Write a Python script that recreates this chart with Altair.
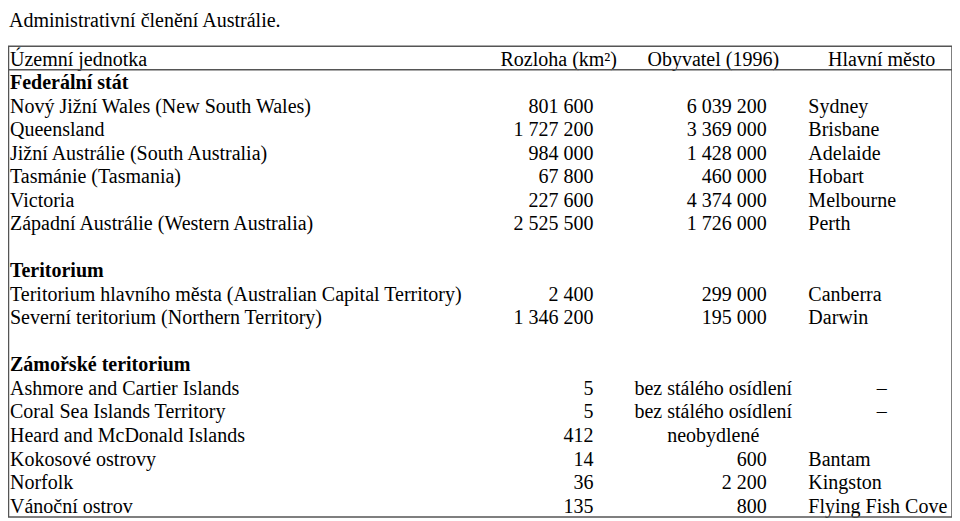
import altair as alt
import pandas as pd

title = "Administrativní členění Austrálie."
headers = ["Územní jednotka", "Rozloha (km²)", "Obyvatel (1996)", "Hlavní město"]
group_titles = ["Federální stát", "Teritorium", "Zámořské teritorium"]

state_names = [
    "Nový Jižní Wales (New South Wales)",
    "Queensland",
    "Jižní Austrálie (South Australia)",
    "Tasmánie (Tasmania)",
    "Victoria",
    "Západní Austrálie (Western Australia)",
]
state_area = [801600, 1727200, 984000, 67800, 227600, 2525500]
state_pop = [6039200, 3369000, 1428000, 460000, 4374000, 1726000]
state_cap = ["Sydney", "Brisbane", "Adelaide", "Hobart", "Melbourne", "Perth"]

terr_names = [
    "Teritorium hlavního města (Australian Capital Territory)",
    "Severní teritorium (Northern Territory)",
]
terr_area = [2400, 1346200]
terr_pop = [299000, 195000]
terr_cap = ["Canberra", "Darwin"]

ext_names = [
    "Ashmore and Cartier Islands",
    "Coral Sea Islands Territory",
    "Heard and McDonald Islands",
    "Kokosové ostrovy",
    "Norfolk",
    "Vánoční ostrov",
]
ext_area = [5, 5, 412, 14, 36, 135]
ext_pop = [None, None, None, 600, 2200, 800]
ext_pop_note = ["bez stálého osídlení", "bez stálého osídlení", "neobydlené", "", "", ""]
ext_cap = ["", "", "", "Bantam", "Kingston", "Flying Fish Cove"]
ext_cap_note = ["–", "–", "", "", "", ""]


def fmt(v):
    return "" if v is None else f"{v:,}".replace(",", " ")


records = []
row = 1
groups = [
    (group_titles[0], state_names, state_area, state_pop, [""] * 6, state_cap, [""] * 6),
    (group_titles[1], terr_names, terr_area, terr_pop, [""] * 2, terr_cap, [""] * 2),
    (group_titles[2], ext_names, ext_area, ext_pop, ext_pop_note, ext_cap, ext_cap_note),
]
group_rows = []
for gi, (gt, names, areas, pops, notes, caps, capnotes) in enumerate(groups):
    group_rows.append({"row": row, "label": gt})
    row += 1
    for n, a, p, nt, c, cn in zip(names, areas, pops, notes, caps, capnotes):
        records.append({"row": row, "name": n, "area": fmt(a), "pop": fmt(p),
                        "note": nt, "cap": c, "capnote": cn})
        row += 1
    if gi < len(groups) - 1:
        row += 1  # blank spacer row
last_row = row - 1

df = pd.DataFrame(records)
gdf = pd.DataFrame(group_rows)
hdf = pd.DataFrame({"row": [0]})
tdf = pd.DataFrame({"row": [-1.62], "label": [title]})
hlines = pd.DataFrame({"row": [-0.5, 0.5, last_row + 0.5]})
vlines = pd.DataFrame({"row": [-0.5], "row2": [last_row + 0.5]})

W, H = 944, 511
S = W / 953.0


def px(ref_x):
    return (ref_x - 2) * S


FONT = "Liberation Serif"
FS = 20
DY = 1.5
BORDER = "#555555"

yscale = alt.Scale(domain=[-2.125, 19.59], reverse=True, nice=False, zero=False)
Y = alt.Y("row:Q", scale=yscale, axis=None)


def txt(data, field, x, align="left", weight="normal"):
    return alt.Chart(data).mark_text(
        align=align, baseline="middle", font=FONT, fontSize=FS, fontWeight=weight,
        color="black", dy=DY
    ).encode(y=Y, x=alt.value(x), text=f"{field}:N")


def htxt(label, x, align):
    return alt.Chart(hdf).mark_text(
        align=align, baseline="middle", font=FONT, fontSize=FS, color="black", dy=DY
    ).encode(y=Y, x=alt.value(x), text=alt.value(label))


layers = [
    txt(tdf, "label", px(3)),
    htxt(headers[0], px(4), "left"),
    htxt(headers[1], px(558), "center"),
    htxt(headers[2], px(714), "center"),
    htxt(headers[3], px(884), "center"),
    txt(gdf, "label", px(4), weight="bold"),
    txt(df, "name", px(4)),
    txt(df, "area", px(593), align="right"),
    txt(df, "pop", px(768), align="right"),
    txt(df, "note", px(714), align="center"),
    txt(df, "cap", px(810)),
    txt(df, "capnote", px(884), align="center"),
    alt.Chart(hlines).mark_rule(color=BORDER, strokeWidth=1.5)
    .encode(y=Y, x=alt.value(px(2)), x2=alt.value(px(955))),
    alt.Chart(vlines).mark_rule(color=BORDER, strokeWidth=1.5)
    .encode(y=Y, y2="row2:Q", x=alt.value(px(2.5))),
    alt.Chart(vlines).mark_rule(color=BORDER, strokeWidth=1.5)
    .encode(y=Y, y2="row2:Q", x=alt.value(px(955))),
]

chart = alt.layer(*layers).properties(
    width=W, height=H, autosize=alt.AutoSizeParams(type="none"), padding=0, background="white"
).configure_view(stroke=None)

chart.save("out.html", embed_options={"renderer": "svg", "actions": False})
